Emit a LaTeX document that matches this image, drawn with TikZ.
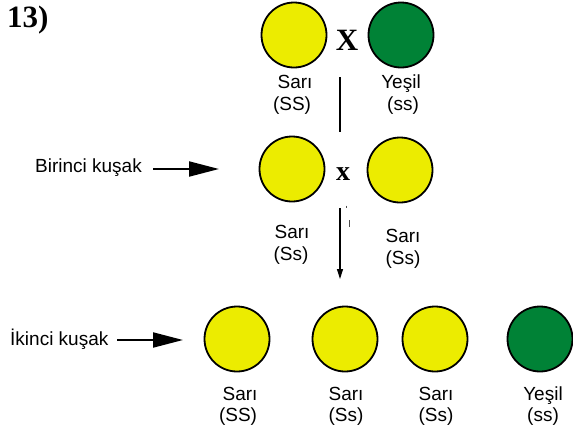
\documentclass[tikz,border=0pt]{standalone}
\usepackage{fontspec}
\setmainfont{Liberation Sans}
\newfontfamily\serifbold{Liberation Serif}
\usetikzlibrary{arrows.meta}
\definecolor{pyellow}{RGB}{236,236,0}
\definecolor{pgreen}{RGB}{0,130,54}
\tikzset{
  pea/.style={circle, draw=black, line width=1.8pt, minimum size=65pt, inner sep=0pt},
  ypea/.style={pea, fill=pyellow},
  gpea/.style={pea, fill=pgreen},
  lbl/.style={font=\fontsize{19}{22}\selectfont, inner sep=0pt, anchor=base},
  gen/.style={font=\fontsize{19}{22}\selectfont, inner sep=0pt, anchor=base west},
  cross/.style={font=\serifbold\bfseries\fontsize{31}{34}\selectfont, inner sep=0pt, anchor=base},
  genarrow/.style={line width=2pt, -{Triangle[length=30pt,width=15pt]}},
}
\begin{document}
\begin{tikzpicture}[x=1pt,y=-1pt]
\useasboundingbox (0,0) rectangle (573,432);
% title
\node[cross, anchor=base west] (num) at (7,27) {13)};
% parents
\node[ypea] (p1) at (294,35) {};
\node[gpea] (p2) at (401,35) {};
\node[cross] (px) at (347,50) {X};
\node[lbl] (p1a) at (295,88) {Sarı};
\node[lbl] (p1b) at (292,110) {(SS)};
\node[lbl] (p2a) at (401,88) {Yeşil};
\node[lbl] (p2b) at (403,110) {(ss)};
\coordinate (v1) at (340,77);
\coordinate (v2) at (340,132);
\draw[line width=1.6pt] (v1) -- (v2);
% first generation
\node[gen] (birinci) at (35,172) {Birinci kuşak};
\coordinate (b1) at (153,169);
\coordinate (b2) at (219,169);
\draw[genarrow] (b1) -- (b2);
\node[ypea] (f1) at (292,169) {};
\node[ypea] (f2) at (400,170) {};
\node[cross, font=\serifbold\bfseries\fontsize{28}{30}\selectfont] (fx) at (343,180) {x};
\node[lbl] (f1a) at (292,238) {Sarı};
\node[lbl] (f1b) at (291,260) {(Ss)};
\node[lbl] (f2a) at (403,242) {Sarı};
\node[lbl] (f2b) at (403,264) {(Ss)};
\coordinate (a1) at (340,208);
\coordinate (a2) at (340,279);
\draw[line width=1.2pt, -{Triangle[length=10pt,width=6pt]}] (a1) -- (a2);
\draw[line width=0.7pt, black!70] (346.5,205.5) -- (346.5,208);
\draw[line width=0.6pt, black!70] (349,220) -- (349,227);
% second generation
\node[gen] (ikinci) at (10,345) {İkinci kuşak};
\coordinate (i1) at (117,340);
\coordinate (i2) at (183,340);
\draw[genarrow] (i1) -- (i2);
\node[ypea] (s1) at (237,339) {};
\node[ypea] (s2) at (345,339) {};
\node[ypea] (s3) at (435,339) {};
\node[gpea] (s4) at (540,339) {};
\node[lbl] (s1a) at (240,400) {Sarı};
\node[lbl] (s1b) at (238,421) {(SS)};
\node[lbl] (s2a) at (346,400) {Sarı};
\node[lbl] (s2b) at (346,421) {(Ss)};
\node[lbl] (s3a) at (436,400) {Sarı};
\node[lbl] (s3b) at (436,421) {(Ss)};
\node[lbl] (s4a) at (543,400) {Yeşil};
\node[lbl] (s4b) at (543,421) {(ss)};
\end{tikzpicture}
\end{document}
